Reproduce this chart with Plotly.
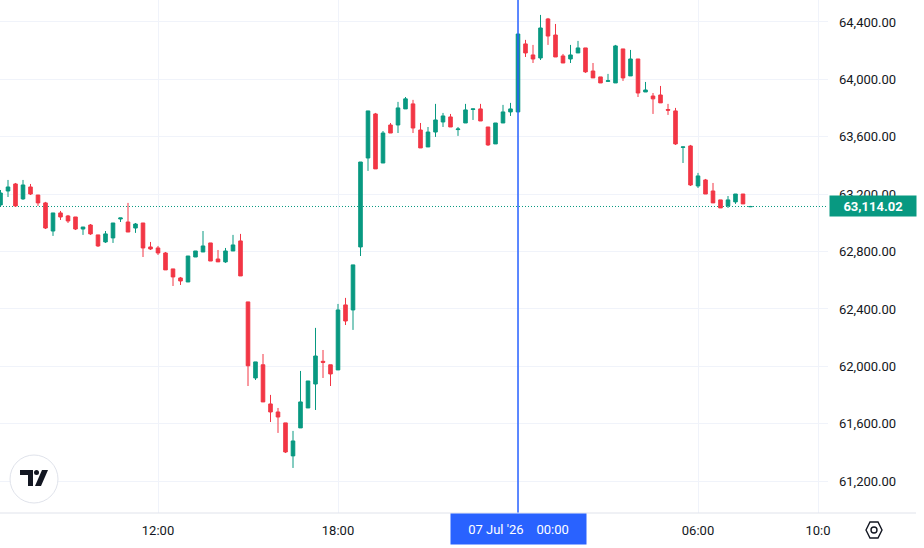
import pandas as pd
import plotly.graph_objects as go

# ---- data (15-minute candles, 06 Jul 2026 06:45 -> 07 Jul 2026 07:45) ----
start_time = "2026-07-06 06:45"
n_candles = 101
open_ = [63125, 63222, 63271, 63167, 63250, 63194, 63139, 62943, 63069, 63048,
         63041, 62957, 62985, 62916, 62867, 62895, 63027, 63006, 62964, 62999,
         62832, 62825, 62790, 62679, 62616, 62588, 62762, 62797, 62860, 62748,
         62728, 62804, 62874, 62449, 61919, 62011, 61738, 61682, 61606, 61376,
         61571, 61710, 61877, 62035, 62011, 61975, 62428, 62393, 62832, 63452,
         63759, 63417, 63682, 63682, 63794, 63829, 63647, 63529, 63633, 63703,
         63738, 63650, 63696, 63790, 63794, 63668, 63550, 63696, 63773, 63773,
         64247, 64170, 64149, 64421, 64309, 64163, 64142, 64184, 64219, 64058,
         64017, 63986, 63975, 64212, 64024, 64142, 63912, 63884, 63891, 63790,
         63780, 63526, 63536, 63257, 63299, 63222, 63160, 63118, 63146, 63201,
         63112]
high = [63229, 63299, 63278, 63299, 63271, 63194, 63146, 63069, 63083, 63055,
        63041, 62971, 62992, 62916, 62943, 62999, 63034, 63139, 62999, 62999,
        62867, 62839, 62797, 62679, 62623, 62769, 62804, 62943, 62860, 62811,
        62825, 62916, 62923, 62449, 62031, 62086, 61801, 61710, 61606, 61550,
        61968, 61898, 62268, 62114, 62011, 62435, 62477, 62707, 63424, 63780,
        63766, 63640, 63696, 63843, 63877, 63857, 63696, 63668, 63829, 63766,
        63759, 63668, 63829, 63794, 63829, 63668, 63696, 63822, 63836, 64316,
        64275, 64240, 64449, 64428, 64386, 64177, 64240, 64268, 64219, 64114,
        64017, 64038, 64240, 64212, 64205, 64142, 63982, 63905, 63954, 63829,
        63801, 63529, 63543, 63348, 63306, 63278, 63160, 63187, 63201, 63201,
        63118]
low = [63118, 63180, 63111, 63160, 63194, 63118, 62957, 62909, 63020, 62999,
       62950, 62916, 62916, 62832, 62860, 62860, 63006, 62936, 62930, 62762,
       62811, 62776, 62672, 62560, 62567, 62588, 62762, 62797, 62734, 62728,
       62721, 62804, 62630, 61863, 61905, 61752, 61612, 61536, 61396, 61292,
       61571, 61710, 61696, 61919, 61863, 61975, 62288, 62254, 62769, 63362,
       63376, 63417, 63626, 63626, 63794, 63626, 63522, 63529, 63599, 63668,
       63668, 63606, 63696, 63717, 63710, 63536, 63550, 63696, 63745, 63773,
       64156, 64114, 64135, 64240, 64156, 64114, 64114, 64184, 64045, 64010,
       63975, 63982, 63975, 63989, 64024, 63877, 63912, 63759, 63836, 63752,
       63543, 63417, 63257, 63243, 63201, 63139, 63104, 63104, 63132, 63132,
       63110]
close = [63208, 63250, 63118, 63264, 63201, 63139, 62964, 63069, 63041, 63013,
         62957, 62971, 62923, 62839, 62923, 62999, 63034, 62936, 62992, 62825,
         62818, 62790, 62672, 62623, 62595, 62769, 62804, 62839, 62734, 62728,
         62804, 62846, 62630, 62004, 62031, 61752, 61682, 61647, 61403, 61480,
         61752, 61898, 62072, 62028, 61947, 62393, 62316, 62707, 63424, 63780,
         63376, 63626, 63626, 63801, 63864, 63661, 63522, 63633, 63717, 63745,
         63668, 63654, 63787, 63794, 63710, 63543, 63696, 63773, 63794, 64316,
         64184, 64142, 64358, 64302, 64156, 64114, 64170, 64219, 64052, 64010,
         63975, 63990, 64233, 64010, 64142, 63905, 63926, 63864, 63836, 63785,
         63550, 63529, 63264, 63327, 63201, 63139, 63104, 63160, 63201, 63132,
         63114.02]

last_price = 63114.02
price_ticks = [61200, 61600, 62000, 62400, 62800, 63200, 63600, 64000, 64400]
time_ticks = ["2026-07-06 12:00", "2026-07-06 18:00", "2026-07-07 00:00",
              "2026-07-07 06:00", "2026-07-07 10:00"]
time_tick_text = ["12:00", "18:00", "", "06:00", "10:0"]
crosshair_time = "2026-07-07 00:00"
crosshair_label = "07 Jul '26\u00a0\u00a0\u00a0\u00a000:00"

times = pd.date_range(start_time, periods=n_candles, freq="15min")

GREEN = "#089981"
RED = "#F23645"
TEXT = "#131722"
GRID = "#F0F3FA"
BLUE = "#2962FF"
FONT = "Roboto"

fig = go.Figure()
fig.add_trace(go.Candlestick(
    x=times, open=open_, high=high, low=low, close=close,
    increasing=dict(line=dict(color=GREEN, width=1), fillcolor=GREEN),
    decreasing=dict(line=dict(color=RED, width=1), fillcolor=RED),
    whiskerwidth=0, hoverinfo="skip", showlegend=False,
))

shapes = []
# last price dotted line
shapes.append(dict(type="line", xref="paper", x0=0, x1=1, yref="y",
                   y0=last_price, y1=last_price,
                   line=dict(color=GREEN, width=1, dash="1px,2px"), layer="below"))
# crosshair vertical line
shapes.append(dict(type="line", xref="x", x0=crosshair_time, x1=crosshair_time,
                   yref="paper", y0=0, y1=1, line=dict(color=BLUE, width=1.5)))
# bottom border extending under price scale
shapes.append(dict(type="line", xref="paper", x0=0, x1=916 / 828, yref="paper",
                   y0=0, y1=0, line=dict(color="#E0E3EB", width=1)))
# logo circle (pixel sized, anchored at bottom-left of plot)
px = dict(xref="paper", yref="paper", xsizemode="pixel", ysizemode="pixel",
          xanchor=0, yanchor=0)
shapes.append(dict(type="circle", x0=10, x1=58, y0=10, y1=58,
                   fillcolor="white", line=dict(color="#E0E3EB", width=1), **px))
# logo glyph
shapes.append(dict(type="path", path="M 20 43 L 33 43 L 33 27 L 28 27 L 28 38 L 20 38 Z",
                   fillcolor=TEXT, line=dict(width=0), **px))
shapes.append(dict(type="circle", x0=34, x1=39, y0=38, y1=43,
                   fillcolor=TEXT, line=dict(width=0), **px))
shapes.append(dict(type="path", path="M 35 27 L 41 27 L 48 43 L 42 43 Z",
                   fillcolor=TEXT, line=dict(width=0), **px))
# settings hexagon icon under the price scale
shapes.append(dict(type="path",
                   path="M 866 -17 L 870 -9 L 878 -9 L 882 -17 L 878 -25 L 870 -25 Z",
                   line=dict(color=TEXT, width=1.4), **px))
shapes.append(dict(type="circle", x0=871, x1=877, y0=-20, y1=-14,
                   line=dict(color=TEXT, width=1.4), **px))

annotations = [
    dict(xref="paper", x=1, xanchor="left", xshift=1, yref="y", y=last_price,
         text="<b>63,114.02</b>", showarrow=False, bgcolor=GREEN,
         font=dict(color="white", size=13, family=FONT), width=82, height=16,
         borderpad=2, align="center"),
    dict(xref="x", x=crosshair_time, yref="paper", y=0, yanchor="top",
         text=crosshair_label, showarrow=False, bgcolor=BLUE,
         font=dict(color="white", size=13, family=FONT), width=127, height=22,
         borderpad=4, yshift=0),
]

fig.update_layout(
    width=924, height=548,
    margin=dict(l=0, r=96, t=0, b=35),
    paper_bgcolor="white", plot_bgcolor="white",
    font=dict(family=FONT, size=13, color=TEXT),
    shapes=shapes, annotations=annotations,
    boxgap=0.32,
    hovermode=False,
    xaxis=dict(
        type="date",
        range=["2026-07-06 06:44", "2026-07-07 10:20"],
        rangeslider=dict(visible=False),
        tickvals=time_ticks, ticktext=time_tick_text,
        showgrid=True, gridcolor=GRID, gridwidth=1,
        zeroline=False, showline=False, ticks="",
        ticklabelstandoff=8,
        tickfont=dict(family=FONT, size=13, color=TEXT),
    ),
    yaxis=dict(
        side="right",
        range=[60978, 64553],
        tickvals=price_ticks, tickformat=",.2f",
        showgrid=True, gridcolor=GRID, gridwidth=1,
        zeroline=False, showline=False, ticks="",
        ticklabelstandoff=10,
        tickfont=dict(family=FONT, size=13, color=TEXT),
    ),
)

fig.write_html("out.html")
